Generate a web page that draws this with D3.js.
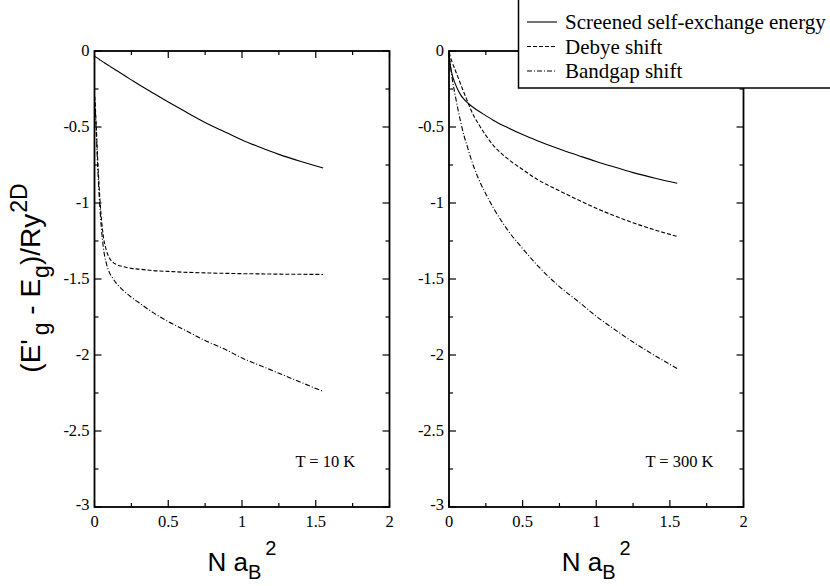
<!DOCTYPE html>
<html><head><meta charset="utf-8">
<script src="https://cdn.jsdelivr.net/npm/d3@7"></script>
<style>body{margin:0;background:#fff}</style>
</head><body>
<svg id="c" width="830" height="586"></svg>
<script>
// Data: x = N a_B^2
const N = [0.002,0.01,0.02,0.04,0.06,0.08,0.1,0.125,0.15,0.2,0.25,0.3,0.4,0.5,0.6,0.75,0.9,1.0,1.1,1.25,1.4,1.55];
// T = 10 K
const se10  = [-0.035,-0.04,-0.047,-0.06,-0.073,-0.086,-0.098,-0.113,-0.128,-0.16,-0.19,-0.22,-0.278,-0.335,-0.39,-0.47,-0.54,-0.585,-0.625,-0.68,-0.727,-0.77];
const deb10 = [-0.30,-0.45,-0.68,-1.02,-1.22,-1.31,-1.36,-1.39,-1.405,-1.42,-1.43,-1.435,-1.445,-1.45,-1.455,-1.46,-1.463,-1.465,-1.466,-1.468,-1.469,-1.47];
const bg10  = [-0.335,-0.49,-0.727,-1.08,-1.293,-1.396,-1.455,-1.497,-1.53,-1.58,-1.62,-1.655,-1.723,-1.78,-1.83,-1.905,-1.97,-2.02,-2.06,-2.12,-2.18,-2.24];
// T = 300 K
const se300  = [-0.03,-0.1,-0.15,-0.21,-0.255,-0.29,-0.315,-0.34,-0.36,-0.395,-0.425,-0.455,-0.505,-0.55,-0.59,-0.645,-0.695,-0.727,-0.757,-0.80,-0.837,-0.87];
const deb300 = [-0.01,-0.04,-0.07,-0.12,-0.17,-0.22,-0.27,-0.33,-0.39,-0.48,-0.555,-0.62,-0.71,-0.78,-0.845,-0.92,-0.99,-1.035,-1.075,-1.13,-1.178,-1.22];
const bg300  = [-0.04,-0.1,-0.17,-0.28,-0.38,-0.47,-0.55,-0.63,-0.71,-0.84,-0.94,-1.03,-1.18,-1.30,-1.41,-1.55,-1.665,-1.745,-1.815,-1.915,-2.005,-2.09];

const xTicks = [0,0.5,1,1.5,2];
const yTicks = [0,-0.5,-1,-1.5,-2,-2.5,-3];
const seriesNames = ["Screened self-exchange energy","Debye shift","Bandgap shift"];
const panelLabels = ["T = 10 K","T = 300 K"];

const dashes = [null,"4,2","5,2,1,2"];
const svg = d3.select("#c");
const serif = "'Liberation Serif','Times New Roman',serif";
const sans = "'Liberation Sans',Arial,sans-serif";

const panels = [
  {x0:94.5, x1:389.5, data:[se10,deb10,bg10], label:panelLabels[0]},
  {x0:449, x1:743.5, data:[se300,deb300,bg300], label:panelLabels[1]}
];
const yTop = 51, yBot = 507;
const y = d3.scaleLinear().domain([0,-3]).range([yTop,yBot]);

panels.forEach(p => {
  const x = d3.scaleLinear().domain([0,2]).range([p.x0,p.x1]);
  const g = svg.append("g");
  const minorX = d3.range(0,2.001,0.25);
  const minorY = d3.range(0,-3.001,-0.25);
  const tk = g.append("g").attr("stroke","#000").attr("stroke-width",1.2);
  minorX.forEach(v => {
    const L = Math.abs(v*2-Math.round(v*2))<1e-6 ? 7 : 4;
    tk.append("line").attr("x1",x(v)).attr("x2",x(v)).attr("y1",yBot).attr("y2",yBot-L);
    tk.append("line").attr("x1",x(v)).attr("x2",x(v)).attr("y1",yTop).attr("y2",yTop+L);
  });
  minorY.forEach(v => {
    const L = Math.abs(v*2-Math.round(v*2))<1e-6 ? 7 : 4;
    tk.append("line").attr("y1",y(v)).attr("y2",y(v)).attr("x1",p.x0).attr("x2",p.x0+L);
    tk.append("line").attr("y1",y(v)).attr("y2",y(v)).attr("x1",p.x1).attr("x2",p.x1-L);
  });
  const line = d3.line().x((d,i)=>x(N[i])).y(d=>y(d)).curve(d3.curveMonotoneX);
  p.data.forEach((s,k) => {
    g.append("path").datum(s).attr("d",line).attr("fill","none").attr("stroke","#000")
      .attr("stroke-width",1.1).attr("stroke-dasharray",dashes[k]);
  });
  g.append("rect").attr("x",p.x0).attr("y",yTop).attr("width",p.x1-p.x0).attr("height",yBot-yTop)
    .attr("fill","none").attr("stroke","#000").attr("stroke-width",1.8);
  xTicks.forEach(v => {
    g.append("text").attr("x",x(v)).attr("y",527).attr("text-anchor","middle")
      .attr("font-family",serif).attr("font-size",16.5).text(String(v));
  });
  yTicks.forEach(v => {
    g.append("text").attr("x",p.x0-5).attr("y",y(v)+(v===-3?3:5)).attr("text-anchor","end")
      .attr("font-family",serif).attr("font-size",16.5).text(String(v));
  });
  g.append("text").attr("x",x(1.565)).attr("y",467).attr("text-anchor","middle")
    .attr("font-family",serif).attr("font-size",16.5).text(p.label);
  const xt = g.append("text").attr("x",x(1)).attr("y",571).attr("text-anchor","middle")
    .attr("font-family",sans).attr("font-size",26);
  xt.append("tspan").text("N a");
  xt.append("tspan").attr("font-size",20).attr("dy",8).text("B");
  xt.append("tspan").attr("font-size",20).attr("dy",-24).attr("dx",4).text("2");
});

// y-axis title
const yt = svg.append("text").attr("transform","translate(40,278) rotate(-90)")
  .attr("text-anchor","middle").attr("font-family",sans).attr("font-size",28);
yt.append("tspan").text("(E'");
yt.append("tspan").attr("font-size",23).attr("dy",9).attr("dx",4).text("g");
yt.append("tspan").attr("dy",-9).text(" - E");
yt.append("tspan").attr("font-size",23).attr("dy",9).attr("dx",1).text("g");
yt.append("tspan").attr("dy",-9).text(")/Ry");
yt.append("tspan").attr("font-size",23).attr("dy",-13).attr("dx",1).text("2D");

// legend
const lg = svg.append("g");
lg.append("rect").attr("x",518.5).attr("y",-2).attr("width",330).attr("height",90)
  .attr("fill","#fff").attr("stroke","#000").attr("stroke-width",1.5);
seriesNames.forEach((name,k) => {
  const yy = 22 + k*24.5;
  lg.append("line").attr("x1",527).attr("x2",557).attr("y1",yy).attr("y2",yy)
    .attr("stroke","#000").attr("stroke-width",1.1).attr("stroke-dasharray",dashes[k]);
  lg.append("text").attr("x",565).attr("y",yy+7).attr("font-family",serif).attr("font-size",21).text(name);
});
</script>
</body></html>
